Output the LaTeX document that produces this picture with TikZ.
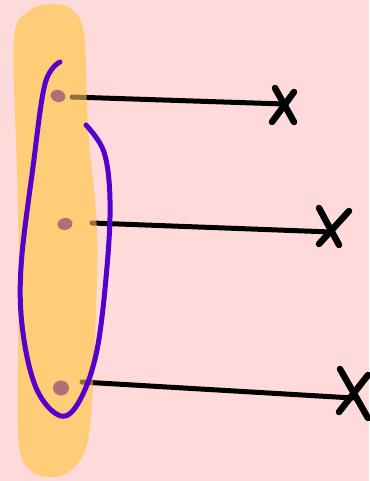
\documentclass[tikz,border=0pt]{standalone}
\usetikzlibrary{shapes.geometric}
\definecolor{bgpink}{HTML}{FFDADA}
\definecolor{blobyellow}{HTML}{FFCC77}
\definecolor{dotcol}{HTML}{B06E78}
\definecolor{loopcol}{HTML}{5500CC}
\tikzset{
  dotnode/.style={ellipse, fill=dotcol, minimum width=15pt, minimum height=12pt, inner sep=0pt},
  ray/.style={line width=5pt, line cap=round, black},
  cross/.style={line width=6.5pt, line cap=round, black},
  loop/.style={line width=5pt, line cap=round, loopcol},
}
\newcommand{\blobpath}{plot[smooth cycle, tension=0.6] coordinates {
  (14,40) (28,12) (50,4) (72,10) (84,36) (88,130) (97,233) (95,333)
  (92,400) (86,448) (70,471) (50,477) (30,470) (19,445) (18,367) (19,267) (17,167)}}
\begin{document}
\begin{tikzpicture}[x=1pt,y=-1pt]
\fill[bgpink] (0,0) rectangle (369,481);
\useasboundingbox (0,0) rectangle (369,481);
% yellow blob
\fill[blobyellow] \blobpath;
% ray start/end coordinates
\coordinate (s1) at (72,97);
\coordinate (e1) at (284,104);
\coordinate (s2) at (92,223);
\coordinate (e2) at (331,232);
\coordinate (s3) at (82,382);
\coordinate (e3) at (353,398);
\draw[ray] (s1) -- (e1);
\draw[ray] (s2) -- (e2);
\draw[ray] (s3) -- (e3);
% tint the ray starts inside the blob
\fill[blobyellow, opacity=0.55] \blobpath;
% crosses
\coordinate (x1a) at (272,122); \coordinate (x1b) at (294,92);
\coordinate (x1c) at (275,88);  \coordinate (x1d) at (294,122);
\draw[cross] (x1a) -- (x1b);
\draw[cross] (x1c) -- (x1d);
\coordinate (x2a) at (319,244); \coordinate (x2b) at (349,211);
\coordinate (x2c) at (319,208); \coordinate (x2d) at (339,245);
\draw[cross] (x2a) -- (x2b);
\draw[cross] (x2c) -- (x2d);
\coordinate (x3a) at (340,369); \coordinate (x3b) at (368,418);
\coordinate (x3c) at (339,412); \coordinate (x3d) at (368,375);
\draw[cross] (x3a) -- (x3b);
\draw[cross] (x3c) -- (x3d);
% dots
\node[dotnode, rotate=-15] (d1) at (58,96) {};
\node[dotnode, rotate=10] (d2) at (65,224) {};
\node[dotnode, minimum width=16pt, minimum height=15pt] (d3) at (61,388) {};
% purple loop
\draw[loop] plot[smooth, tension=0.6] coordinates {
  (60,62) (45,84) (33,167) (21,267) (23,333) (37,390) (61,416)
  (80,400) (97,350) (107,267) (110,200) (104,152) (86,125)};
\end{tikzpicture}
\end{document}
